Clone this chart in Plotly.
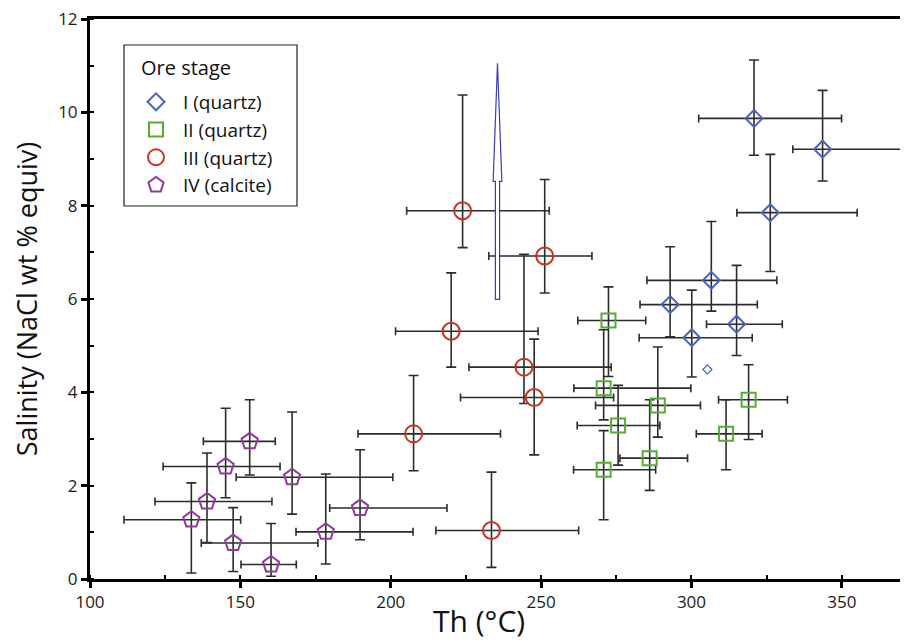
import plotly.graph_objects as go
import numpy as np

# ---- data ----
# Stage I (quartz)
s1_th   = [320.8, 343.6, 326.2, 306.6, 292.9, 315.0, 300.1]
s1_sal  = [9.87, 9.21, 7.85, 6.40, 5.88, 5.46, 5.17]
s1_thlo = [302.4, 333.7, 315.1, 285.2, 282.9, 305.0, 282.6]
s1_thhi = [349.9, 390.0, 355.1, 328.4, 321.9, 330.2, 320.2]
s1_salo = [9.08, 8.53, 6.59, 5.74, 5.19, 4.79, 4.33]
s1_sahi = [11.12, 10.47, 9.10, 7.66, 7.12, 6.72, 6.19]
s1_extra_th  = [305.3]
s1_extra_sal = [4.49]

# Stage II (quartz)
s2_th   = [272.4, 270.8, 288.8, 275.6, 286.1, 270.8, 311.5, 319.0]
s2_sal  = [5.54, 4.09, 3.72, 3.29, 2.59, 2.34, 3.11, 3.84]
s2_thlo = [262.2, 260.9, 268.1, 262.0, 276.2, 260.8, 301.6, 309.0]
s2_thhi = [284.8, 299.8, 303.0, 289.5, 298.7, 288.1, 323.5, 331.9]
s2_salo = [4.34, 3.41, 3.04, 2.44, 1.90, 1.27, 2.34, 2.99]
s2_sahi = [6.26, 5.34, 4.97, 4.15, 3.84, 3.18, 3.84, 4.59]

# Stage III (quartz)
s3_th   = [223.9, 251.2, 220.1, 244.3, 247.7, 207.6, 233.5]
s3_sal  = [7.89, 6.92, 5.31, 4.54, 3.89, 3.11, 1.04]
s3_thlo = [205.3, 232.6, 201.6, 226.0, 223.2, 189.1, 215.0]
s3_thhi = [252.7, 266.9, 249.0, 273.3, 274.1, 236.5, 262.5]
s3_salo = [7.10, 6.13, 4.54, 3.76, 2.66, 2.32, 0.25]
s3_sahi = [10.37, 8.56, 6.56, 6.96, 5.14, 4.36, 2.29]

# Stage IV (calcite)
s4_th   = [133.7, 138.9, 145.1, 153.1, 167.2, 147.6, 160.2, 178.4, 189.8]
s4_sal  = [1.27, 1.66, 2.41, 2.95, 2.18, 0.77, 0.31, 1.01, 1.52]
s4_thlo = [111.3, 121.6, 124.3, 137.7, 148.6, 137.0, 150.2, 168.5, 179.7]
s4_thhi = [150.1, 160.5, 163.2, 161.6, 200.7, 175.8, 168.6, 207.4, 218.7]
s4_salo = [0.13, 0.78, 1.74, 2.23, 1.39, 0.16, 0.06, 0.32, 0.84]
s4_sahi = [2.06, 2.70, 3.66, 3.84, 3.58, 1.53, 1.19, 2.25, 2.77]

# arrow (Th, salinity base -> neck -> tip)
arrow_th = 235.5
arrow_sal = [5.99, 8.52, 11.05]

x_ticks = [100, 150, 200, 250, 300, 350]
y_ticks = [0, 2, 4, 6, 8, 10, 12]

FONT = "Open Sans"
EB = "#2b2b2b"

# page body has an 8px default margin -> compensate in figure size/margins
OFF = 8
W, H = 908 - OFF, 640 - OFF
ML, MT, MB = 90 - OFF, 19 - OFF, 61
PW, PH = 818, 560   # plot area size in px

def px2paper_x(px):
    return (px - 90) / PW

def px2paper_y(py):
    return (579 - py) / PH

def add_stage(fig, name, th, sal, lo, hi, slo, shi, symbol, color, size):
    th = np.array(th); sal = np.array(sal)
    fig.add_trace(go.Scatter(
        x=th, y=sal, mode="markers", name=name,
        marker=dict(symbol=symbol, size=size, color=color,
                    line=dict(color=color, width=2)),
        error_x=dict(type="data", symmetric=False,
                     array=np.array(hi) - th, arrayminus=th - np.array(lo),
                     color=EB, thickness=1.6, width=4),
        error_y=dict(type="data", symmetric=False,
                     array=np.array(shi) - sal, arrayminus=sal - np.array(slo),
                     color=EB, thickness=1.6, width=5),
    ))

fig = go.Figure()
add_stage(fig, "I (quartz)", s1_th, s1_sal, s1_thlo, s1_thhi, s1_salo, s1_sahi,
          "diamond-open", "#4a62c0", 13)
add_stage(fig, "II (quartz)", s2_th, s2_sal, s2_thlo, s2_thhi, s2_salo, s2_sahi,
          "square-open", "#55ad32", 14)
add_stage(fig, "III (quartz)", s3_th, s3_sal, s3_thlo, s3_thhi, s3_salo, s3_sahi,
          "circle-open", "#c8321e", 17)
add_stage(fig, "IV (calcite)", s4_th, s4_sal, s4_thlo, s4_thhi, s4_salo, s4_sahi,
          "pentagon-open", "#8e3c96", 17)

fig.add_trace(go.Scatter(
    x=s1_extra_th, y=s1_extra_sal, mode="markers", showlegend=False,
    marker=dict(symbol="diamond-open", size=7, color="#4a62c0",
                line=dict(color="#4a62c0", width=1.2)),
))

# arrow outline
hw_shaft, hw_head = 0.7, 1.45
b, n, t = arrow_sal
ax = [arrow_th - hw_shaft, arrow_th - hw_shaft, arrow_th - hw_head, arrow_th,
      arrow_th + hw_head, arrow_th + hw_shaft, arrow_th + hw_shaft, arrow_th - hw_shaft]
ay = [b, n, n, t, n, n, b, b]
path = "M " + " L ".join(f"{xx},{yy}" for xx, yy in zip(ax, ay)) + " Z"
fig.add_shape(type="path", path=path, xref="x", yref="y",
              line=dict(color="#3c3cb4", width=1.2), fillcolor="white", layer="above")

# legend frame + title
fig.add_shape(type="rect", xref="paper", yref="paper",
              x0=px2paper_x(124), x1=px2paper_x(297),
              y0=px2paper_y(206), y1=px2paper_y(45),
              line=dict(color="#222", width=1.2), fillcolor="white", layer="below")
fig.add_annotation(text="Ore stage", xref="paper", yref="paper",
                   x=px2paper_x(139), y=px2paper_y(67),
                   xanchor="left", yanchor="middle", showarrow=False,
                   font=dict(family=FONT, size=20, color="#111"))

# x-axis title (placed as in the reference, slightly left of centre)
fig.add_annotation(text="Th (°C)", xref="paper", yref="paper",
                   x=px2paper_x(479), y=px2paper_y(620),
                   xanchor="center", yanchor="middle", showarrow=False,
                   font=dict(family=FONT, size=30, color="#111"))

fig.update_layout(
    width=W, height=H,
    margin=dict(l=ML, r=0, t=MT, b=MB, autoexpand=False),
    paper_bgcolor="white", plot_bgcolor="white",
    font=dict(family=FONT, color="#1a1a1a"),
    showlegend=True,
    legend=dict(
        x=px2paper_x(129), y=px2paper_y(83), xanchor="left", yanchor="top",
        bgcolor="rgba(0,0,0,0)", borderwidth=0,
        font=dict(family=FONT, size=19, color="#111"),
        itemwidth=44, tracegroupgap=0,
    ),
    xaxis=dict(
        range=[100, 372], tickvals=x_ticks, ticktext=[str(v) for v in x_ticks],
        showgrid=False, zeroline=False, automargin=False,
        showline=True, linecolor="black", linewidth=3, mirror=True,
        ticks="outside", ticklen=6, tickwidth=2.5, tickcolor="black",
        minor=dict(dtick=25, tick0=100, ticks="inside", ticklen=4, tickwidth=2, tickcolor="black"),
        tickfont=dict(family=FONT, size=17, color="#1a1a1a"),
        ticklabeloverflow="allow",
    ),
    yaxis=dict(
        range=[0, 12], tickvals=y_ticks, ticktext=[str(v) for v in y_ticks],
        showgrid=False, zeroline=False, automargin=False,
        showline=True, linecolor="black", linewidth=3,
        ticks="outside", ticklen=6, tickwidth=2.5, tickcolor="black",
        minor=dict(dtick=1, tick0=0, ticks="inside", ticklen=4, tickwidth=2, tickcolor="black"),
        tickfont=dict(family=FONT, size=17, color="#1a1a1a"),
        ticklabeloverflow="allow",
        title=dict(text="Salinity (NaCl wt % equiv)", font=dict(family=FONT, size=27, color="#111"), standoff=14),
    ),
)

fig.write_html("out.html")
